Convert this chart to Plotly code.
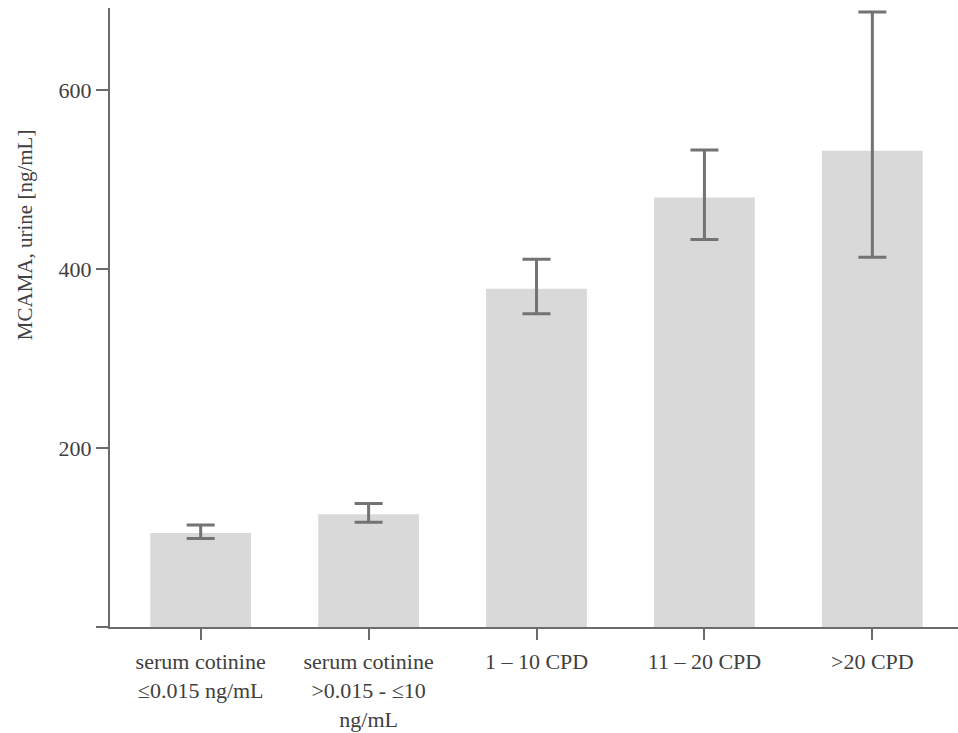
import plotly.graph_objects as go

categories = ["serum cotinine<br>≤0.015 ng/mL",
              "serum cotinine<br>>0.015 - ≤10<br>ng/mL",
              "1 – 10 CPD", "11 – 20 CPD", ">20 CPD"]
means = [105, 126, 378, 480, 532]
upper = [114, 138, 411, 533, 687]
lower = [99, 117, 350, 433, 413]
y_ticks = [0, 200, 400, 600]
y_ticktext = ["", "200", "400", "600"]

xpos = list(range(len(categories)))
err_plus = [u - m for u, m in zip(upper, means)]
err_minus = [m - l for m, l in zip(means, lower)]

font_family = "Liberation Serif"
axis_col = "#6b6b6b"
text_col = "#404040"

fig = go.Figure()
fig.add_trace(go.Bar(
    x=xpos, y=means, width=0.6,
    marker=dict(color="#d9d9d9", line=dict(width=0)),
    error_y=dict(type="data", symmetric=False, array=err_plus, arrayminus=err_minus,
                 color="#737373", thickness=3, width=14),
))

fig.add_annotation(
    text="MCAMA, urine [ng/mL]", textangle=-90,
    xref="paper", yref="y", x=-0.1, y=438,
    xanchor="center", yanchor="middle", showarrow=False,
    font=dict(family=font_family, size=21, color=text_col),
)

fig.update_layout(
    width=958, height=733,
    margin=dict(l=110, r=0, t=8, b=106, autoexpand=False),
    plot_bgcolor="white", paper_bgcolor="white",
    showlegend=False,
    font=dict(family=font_family, size=22, color=text_col),
    xaxis=dict(
        range=[-0.54, 4.51], tickvals=xpos, ticktext=categories,
        ticks="outside", ticklen=11, tickwidth=2, tickcolor=axis_col,
        showline=True, linecolor=axis_col, linewidth=2,
        showgrid=False, zeroline=False, automargin=False,
        ticklabelstandoff=3,
        tickfont=dict(family=font_family, size=22, color=text_col),
    ),
    yaxis=dict(
        range=[0, 691.6], tickvals=y_ticks, ticktext=y_ticktext,
        ticks="outside", ticklen=12, tickwidth=2, tickcolor=axis_col,
        showline=True, linecolor=axis_col, linewidth=2,
        showgrid=False, zeroline=False, automargin=False,
        tickfont=dict(family=font_family, size=22, color=text_col),
    ),
)

fig.write_html(
    "out.html",
    config={"displayModeBar": False},
    post_script="document.body.style.margin='0';document.body.style.overflow='hidden';",
)
